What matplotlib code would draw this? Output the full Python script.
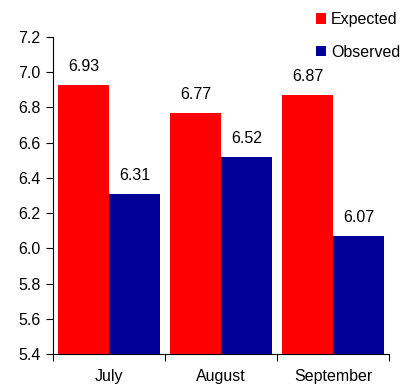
import matplotlib
matplotlib.use("Agg")
import matplotlib.pyplot as plt
from matplotlib.patches import Patch
import numpy as np

months = ["July", "August", "September"]
expected = [6.93, 6.77, 6.87]
observed = [6.31, 6.52, 6.07]
series_names = ["Expected", "Observed"]
colors = ["#FF0000", "#000099"]

plt.rcParams["font.family"] = ["Liberation Sans", "DejaVu Sans"]
plt.rcParams["font.size"] = 11.5

W, H = 407, 390
fig = plt.figure(figsize=(W / 100, H / 100), dpi=100)
ax = fig.add_axes([53 / W, (H - 354) / H, 336 / W, 317 / H])

centers = np.arange(len(months)) + 0.5
bw = 0.455
base = 5.4
b1 = ax.bar(centers - bw / 2, np.array(expected) - base, bw, bottom=base, color=colors[0])
b2 = ax.bar(centers + bw / 2, np.array(observed) - base, bw, bottom=base, color=colors[1])

for bars, vals in ((b1, expected), (b2, observed)):
    for rect, v in zip(bars, vals):
        ax.annotate(f"{v:.2f}", (rect.get_x() + rect.get_width() / 2, v),
                    xytext=(0, 10), textcoords="offset points",
                    ha="center", va="baseline")

ax.set_xlim(0, 3)
ax.set_ylim(5.4, 7.2)
ticks = np.arange(5.4, 7.21, 0.2)
ax.set_yticks(ticks)
ax.set_yticklabels([f"{t:.1f}" for t in ticks])
ax.set_xticks([0, 1, 2, 3])
ax.set_xticklabels([])
ax.set_xticks(centers, minor=True)
ax.set_xticklabels(months, minor=True)
ax.tick_params(axis="x", which="minor", length=0, pad=11)
ax.tick_params(axis="x", which="major", length=5, direction="out")
ax.tick_params(axis="y", length=5, direction="out", pad=4)
for s in ("top", "right"):
    ax.spines[s].set_visible(False)

handles = [Patch(facecolor=c, edgecolor="none") for c in colors]
fig.legend(handles, series_names, loc="upper left",
           bbox_to_anchor=(305 / W, 1 - 1 / H), frameon=False,
           handlelength=0.62, handleheight=0.62, handletextpad=0.3,
           labelspacing=1.1, borderpad=0.2)

fig.savefig("out.png", dpi=100)
